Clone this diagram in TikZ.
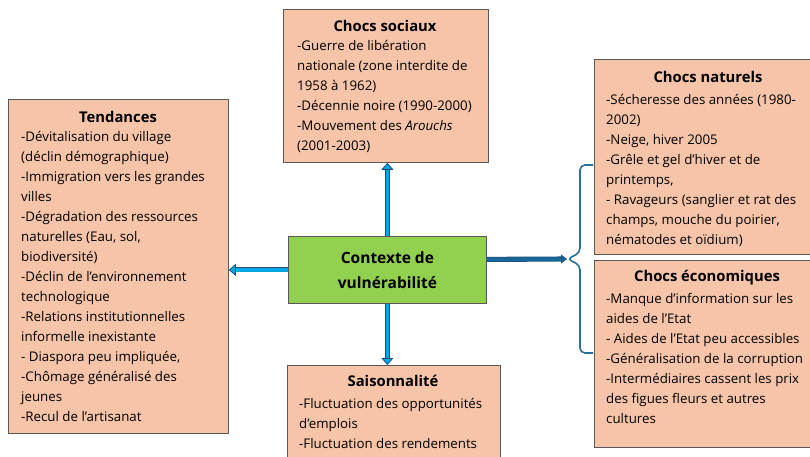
\documentclass[tikz,border=0pt]{standalone}
\usepackage{fontspec}
\setmainfont{Open Sans}
\usepackage{xcolor}
\usetikzlibrary{positioning,arrows.meta,calc}
\definecolor{peach}{HTML}{F6C4A9}
\definecolor{lime}{HTML}{92D050}
\definecolor{arrowfill}{HTML}{00A6E6}
\definecolor{arrowedge}{HTML}{1F4E79}
\definecolor{bracecol}{HTML}{2A6F97}
\tikzset{
  shockbox/.style={draw=black!65, line width=0.8pt, fill=peach, anchor=north west, inner sep=0pt},
  boxtitle/.style={font=\fontsize{14.8}{20}\selectfont\bfseries, inner sep=0pt},
  boxtext/.style={anchor=north west, align=left, font=\fontsize{13.3}{20}\selectfont, inner sep=0pt},
  linkarrow/.style={draw=arrowedge, double=arrowfill, double distance=3.5pt, line width=0.8pt,
    -{Triangle[length=7pt,width=12pt,fill=arrowfill]}},
}

\begin{document}
\begin{tikzpicture}[x=1pt,y=-1pt]
\clip (0,0) rectangle (810,457);

% Centre
\node[draw=black!65, line width=0.8pt, fill=lime, anchor=north west, minimum width=198pt, minimum height=67pt,
  align=center, font=\fontsize{15.5}{25}\selectfont\bfseries] (ctx) at (288,236) {Contexte de\\vulnérabilité};

% Tendances
\node[shockbox, minimum width=220pt, minimum height=334pt] (tend) at (8,99) {};
\node[boxtitle] (tendT) at (118,117) {Tendances};
\node[boxtext] (tendL) at (21,131) {-Dévitalisation du village\\(déclin démographique)\\-Immigration vers les grandes\\villes\\-Dégradation des ressources\\naturelles (Eau, sol,\\biodiversité)\\-Déclin de l’environnement\\technologique\\-Relations institutionnelles\\informelle inexistante\\- Diaspora peu impliquée,\\-Chômage généralisé des\\jeunes\\-Recul de l’artisanat};

% Chocs sociaux
\node[shockbox, minimum width=205pt, minimum height=153pt] (soc) at (283,9) {};
\node[boxtitle] (socT) at (385,26) {Chocs sociaux};
\node[boxtext] (socL) at (297,40) {-Guerre de libération\\nationale (zone interdite de\\1958 à 1962)\\-Décennie noire (1990-2000)\\-Mouvement des \textit{Arouchs}\\(2001-2003)};

% Saisonnalite
\node[shockbox, minimum width=213pt, minimum height=110pt] (sais) at (287,365) {};
\node[boxtitle] (saisT) at (393,381) {Saisonnalité};
\node[boxtext] (saisL) at (299,398) {-Fluctuation des opportunités\\d’emplois\\-Fluctuation des rendements};

% Chocs naturels
\node[shockbox, minimum width=230pt, minimum height=195pt] (nat) at (594,59) {};
\node[boxtitle] (natT) at (708,77) {Chocs naturels};
\node[boxtext] (natL) at (606,94) {-Sécheresse des années (1980-\\2002)\\-Neige, hiver 2005\\-Grêle et gel d’hiver et de\\printemps,\\- Ravageurs (sanglier et rat des\\champs, mouche du poirier,\\nématodes et oïdium)};

% Chocs economiques
\node[shockbox, minimum width=230pt, minimum height=187pt] (eco) at (594,260) {};
\node[boxtitle] (ecoT) at (707,278) {Chocs économiques};
\node[boxtext] (ecoL) at (606,293) {-Manque d’information sur les\\aides de l’Etat\\- Aides de l’Etat peu accessibles\\-Généralisation de la corruption\\-Intermédiaires cassent les prix\\des figues fleurs et autres\\cultures};

% Brace
\coordinate (brc) at (567,259);
\draw[bracecol, line width=1.6pt, rounded corners=5pt] (593,165) -- (580,165) -- (580,253) -- (brc) -- (580,265) -- (580,353) -- (593,353);

% Arrows
\draw[linkarrow] (ctx.north) -- (ctx.north |- soc.south);
\draw[linkarrow] (ctx.south) -- (ctx.south |- sais.north);
\draw[linkarrow] (ctx.west) -- (ctx.west -| tend.east);
\draw[linkarrow, double=arrowedge!70!arrowfill, -{Triangle[length=6pt,width=9pt,fill=arrowedge!70!arrowfill]}] ([yshift=10.5pt]ctx.east) -- (brc);

\end{tikzpicture}
\end{document}
